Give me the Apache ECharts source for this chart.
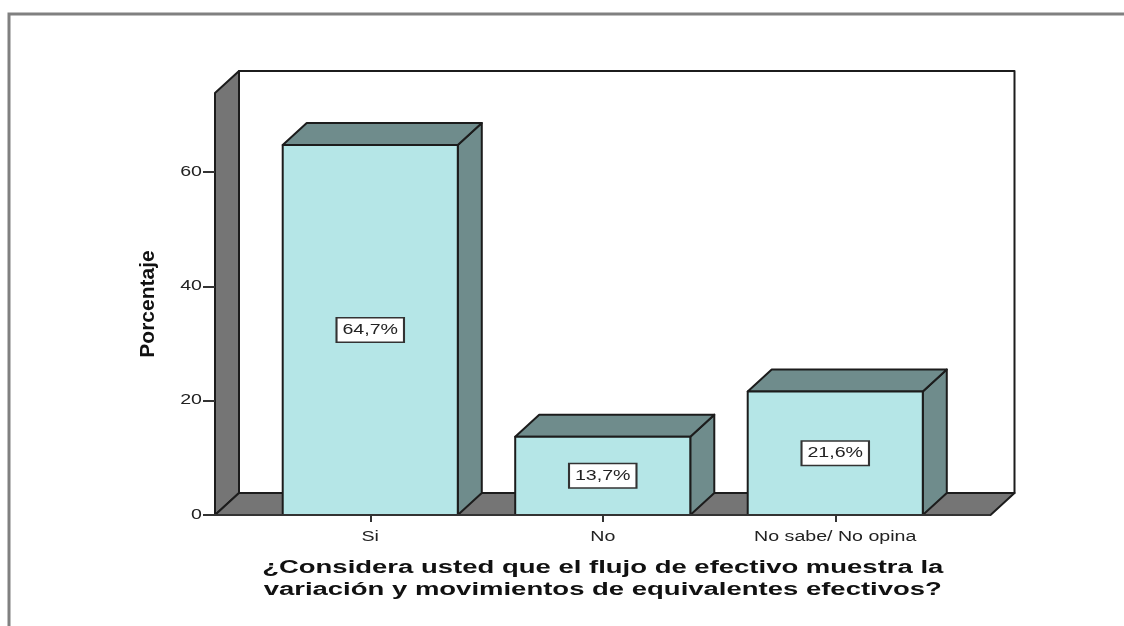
<!DOCTYPE html>
<html><head><meta charset="utf-8">
<style>html,body{margin:0;padding:0;background:#fff}#c{width:1124px;height:626px}</style>
<script src="https://cdn.jsdelivr.net/npm/echarts@6/dist/echarts.min.js"></script>
</head><body><div id="c"></div>
<script>
const categories = ['Si', 'No', 'No sabe/ No opina'];
const percentages = [64.7, 13.7, 21.6];
const labels = ['64,7%', '13,7%', '21,6%'];
const yTicks = [0, 20, 40, 60];
const yMax = 73.8;
const yTitle = 'Porcentaje';
const xTitle = '¿Considera usted que el flujo de efectivo muestra la\nvariación y movimientos de equivalentes efectivos?';

const DX = 24, DY = -22, WALL_PAD = 39, BAR_FRAC = 0.753;
const LABEL_STRETCH = 1.4, TITLE_STRETCH = 1.527;
const INK = '#1c1c1c', WALL = '#757575', SIDE = '#6f8c8c', FRONT = '#b5e6e7', TEXT = '#222';
const edge = {stroke: INK, lineWidth: 2, lineJoin: 'round'};
const poly = (points, fill, extra) => ({type: 'polygon', shape: {points}, style: Object.assign({fill}, edge, extra || {})});

const chart = echarts.init(document.getElementById('c'), null, {renderer: 'canvas'});
chart.setOption({
  animation: false,
  backgroundColor: '#fff',
  textStyle: {fontFamily: 'Liberation Sans'},
  graphic: [{type: 'rect', silent: true, z: 0, shape: {x: 9, y: 14, width: 1300, height: 800},
             style: {fill: 'none', stroke: '#808080', lineWidth: 3}}],
  grid: {left: 254, top: 93, width: 697.5, height: 422},
  xAxis: {
    type: 'category', data: categories, z: 5,
    axisLine: {show: true, lineStyle: {color: '#333', width: 2}},
    axisTick: {show: true, alignWithLabel: true, length: 7, lineStyle: {color: '#333', width: 2}},
    axisLabel: {color: TEXT, fontSize: 14, margin: 15, interval: 0},
    name: xTitle, nameLocation: 'middle', nameGap: 42,
    nameTextStyle: {fontWeight: 'bold', fontSize: 18, color: '#111', lineHeight: 22}
  },
  yAxis: {
    type: 'value', min: 0, max: yMax, offset: WALL_PAD, z: 5,
    splitLine: {show: false},
    axisLine: {show: false},
    axisTick: {show: true, length: 12, customValues: yTicks, lineStyle: {color: '#333', width: 2}},
    axisLabel: {color: TEXT, fontSize: 14, margin: 13, customValues: yTicks},
    name: yTitle, nameLocation: 'middle', nameGap: 56,
    nameTextStyle: {fontWeight: 'bold', fontSize: 21, color: '#111'}
  },
  series: [
    {
      type: 'custom', coordinateSystem: 'cartesian2d', clip: false, z: 1, silent: true,
      data: [[0, 0]],
      renderItem(params, api) {
        const g = params.coordSys;
        const l = g.x - WALL_PAD, r = g.x + g.width + WALL_PAD, t = g.y, b = g.y + g.height;
        return {type: 'group', children: [
          poly([[l + DX, t + DY], [r + DX, t + DY], [r + DX, b + DY], [l + DX, b + DY]], '#fff'),
          poly([[l, t], [l + DX, t + DY], [l + DX, b + DY], [l, b]], WALL),
          poly([[l, b], [l + DX, b + DY], [r + DX, b + DY], [r, b]], WALL),
          {type: 'line', shape: {x1: l - 12, y1: b, x2: r, y2: b}, style: {stroke: '#333', lineWidth: 2}}
        ]};
      }
    },
    {
      type: 'custom', coordinateSystem: 'cartesian2d', clip: false, z: 2, silent: true,
      data: percentages.map((v, i) => [i, v]),
      encode: {x: 0, y: 1},
      renderItem(params, api) {
        const i = api.value(0), v = api.value(1);
        const top = api.coord([i, v]), base = api.coord([i, 0]);
        const w = api.size([1, 0])[0] * BAR_FRAC;
        const x0 = top[0] - w / 2, x1 = top[0] + w / 2, yT = top[1], yB = base[1];
        const mid = api.coord([i, v / 2]);
        return {type: 'group', children: [
          poly([[x1, yT], [x1 + DX, yT + DY], [x1 + DX, yB + DY], [x1, yB]], SIDE),
          poly([[x0, yT], [x0 + DX, yT + DY], [x1 + DX, yT + DY], [x1, yT]], SIDE),
          poly([[x0, yT], [x1, yT], [x1, yB], [x0, yB]], FRONT),
          {type: 'text', z2: 10, x: mid[0], y: mid[1], scaleX: LABEL_STRETCH, style: {
            text: labels[i], align: 'center', verticalAlign: 'middle',
            font: '14px "Liberation Sans"', fill: TEXT,
            backgroundColor: '#fff', borderColor: '#333', borderWidth: 1.5,
            padding: [5, 3.5, 4, 3.5]
          }}
        ]};
      }
    }
  ]
});

// The reference's text is stretched horizontally; widen the axis texts in place.
const tickTexts = new Set(categories.concat(yTicks.map(String)));
chart.getZr().storage.traverse(el => {
  if (el.type !== 'text' || !el.style) return;
  const s = String(el.style.text);
  if (s === xTitle) el.scaleX = TITLE_STRETCH;
  else if (tickTexts.has(s)) el.scaleX = LABEL_STRETCH;
  else return;
  el.markRedraw();
});
chart.getZr().refresh();
</script></body></html>
